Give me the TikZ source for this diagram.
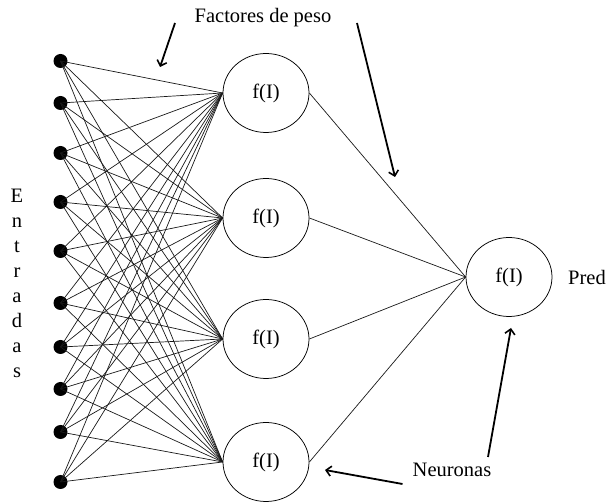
\documentclass[tikz,border=0pt]{standalone}
\usepackage{fontspec}
\setmainfont{Liberation Serif}
\usetikzlibrary{shapes.geometric,arrows.meta}
\begin{document}
\begin{tikzpicture}[x=1pt,y=-1pt,
  txt/.style={font=\fontsize{20.5}{25}\selectfont, inner sep=0pt},
  neuron/.style={ellipse, draw=black, line width=0.75pt, minimum width=86pt, minimum height=79pt, inner sep=0pt, font=\fontsize{20.5}{25}\selectfont},
  inp/.style={circle, fill=black, inner sep=0pt, minimum size=14pt},
  wire/.style={draw=black!90, line width=0.7pt},
  pointer/.style={draw=black, line width=1.8pt, -{Straight Barb[length=5pt,width=10pt,line width=1.6pt]}}]
\useasboundingbox (0,0) rectangle (606,502);
% inputs
\foreach \i/\y in {1/61,2/103,3/153,4/202,5/251,6/303,7/347,8/389,9/432,10/482}
  \node[inp] (x\i) at (60.5,\y) {};
% hidden
\foreach \j/\y in {1/93,2/218,3/339,4/462}
  \node[neuron] (h\j) at (266,\y) {f(I)};
% output
\node[neuron] (o) at (509,277) {f(I)};
% wires
\foreach \i in {1,...,10}
  \foreach \j in {1,...,4}
    \draw[wire] (x\i.center) -- (h\j.west);
\foreach \j in {1,...,4}
  \draw[wire] (h\j.east) -- (o.west);
% labels
\node[txt, anchor=base] (fp) at (263,23) {Factores de peso};
\node[txt, anchor=base] (nr) at (452,477) {Neuronas};
\node[txt, anchor=base] (pr) at (587,285) {Pred};
\node[txt, align=center, anchor=center] (en) at (17,283) {E\\n\\t\\r\\a\\d\\a\\s};
% pointers
\coordinate (a1s) at (175,23); \coordinate (a1e) at (160,67);
\coordinate (a2s) at (357,23); \coordinate (a2e) at (395,177);
\coordinate (a3e) at (325,470);
\coordinate (a4s) at (488,457); \coordinate (a4e) at (511,328);
\draw[pointer] (a1s) -- (a1e);
\draw[pointer] (a2s) -- (a2e);
\draw[pointer] ([xshift=-10pt,yshift=-7pt]nr.base west) -- (a3e);
\draw[pointer] (a4s) -- (a4e);
\end{tikzpicture}
\end{document}
